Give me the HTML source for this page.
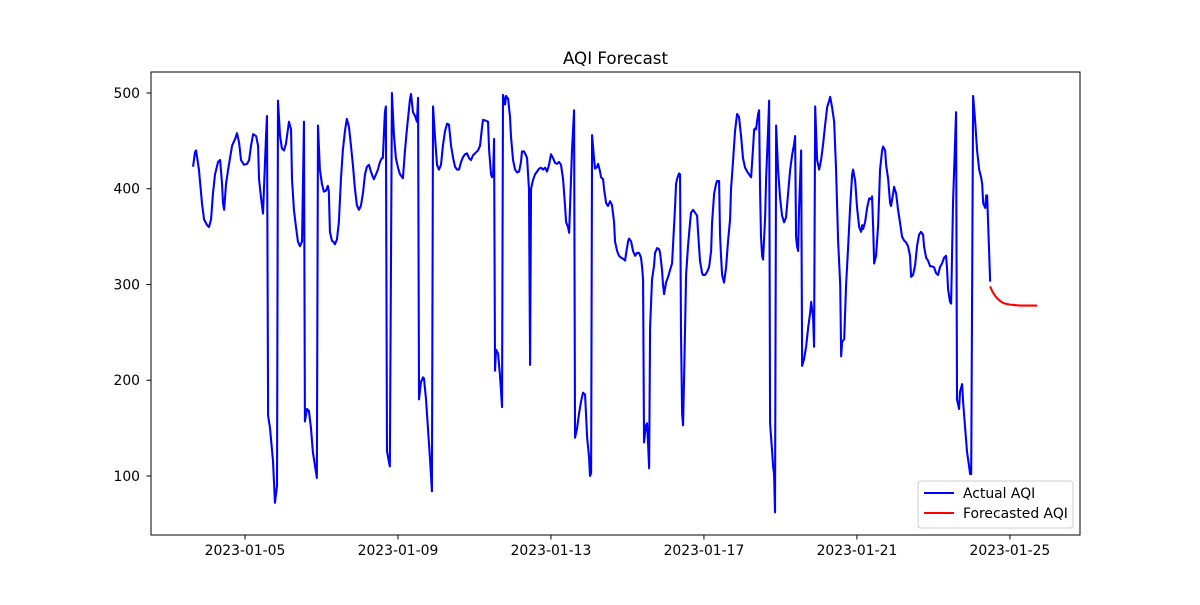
<!DOCTYPE html>
<html><head><meta charset="utf-8"><style>
body{margin:0;background:#fff;}
svg text{font-family:"DejaVu Sans","Liberation Sans",sans-serif;}
</style></head><body>
<svg id="chart" width="1200" height="600" xmlns="http://www.w3.org/2000/svg">
<rect width="1200" height="600" fill="#fff"/>
<text x="615.5" y="64" font-size="16.7" text-anchor="middle">AQI Forecast</text>
<g id="axes"></g>
<g id="series"></g>
<rect x="151" y="72" width="929" height="463" fill="none" stroke="#000" stroke-width="1"/>
<g>
<rect x="918" y="481" width="155" height="47" rx="3" fill="#fff" fill-opacity="0.8" stroke="#ccc"/>
<line x1="924" y1="493" x2="954" y2="493" stroke="#0000ff" stroke-width="2.08"/>
<text x="963" y="498" font-size="13.9">Actual AQI</text>
<line x1="924" y1="513" x2="954" y2="513" stroke="#ff0000" stroke-width="2.08"/>
<text x="963" y="518" font-size="13.9">Forecasted AQI</text>
</g>
</svg>
<script>
// hours since 2023-01-03 00:00
const actualTimes=[15.4,16.6,17.3,19.1,21.0,22.3,24.2,25.4,26.7,27.9,29.2,31.1,32.4,33.6,34.2,34.9,36.1,37.4,38.6,39.9,41.8,43.0,44.3,45.5,47.4,49.3,50.6,51.8,53.1,55.0,56.2,56.8,58.1,59.3,61.2,61.8,62.5,63.7,65.6,66.8,68.1,68.7,70.0,71.2,72.5,73.7,75.6,76.9,77.5,78.7,80.0,81.2,82.5,83.8,85.0,85.6,86.9,88.1,89.4,90.6,93.1,93.8,95.0,96.3,97.5,98.8,100.0,100.6,101.3,102.5,103.8,104.4,105.7,106.9,108.2,109.4,110.7,111.9,113.2,114.5,115.7,117.0,118.2,119.5,120.7,122.0,123.3,124.5,125.8,127.0,128.3,128.9,130.2,131.4,132.7,133.9,134.5,135.8,136.4,137.1,138.3,138.9,140.2,141.5,142.7,144.0,145.3,147.1,148.4,149.6,150.9,151.5,152.2,153.4,154.7,155.9,156.6,157.2,158.4,159.7,160.3,161.6,162.8,164.1,165.3,166.0,167.2,168.5,169.7,171.0,172.2,173.5,174.8,176.0,177.3,178.6,179.8,181.1,182.3,183.6,184.8,186.1,187.3,188.6,189.8,191.1,192.4,194.2,195.5,196.8,197.4,199.3,200.5,201.2,202.4,203.0,203.7,204.3,204.9,205.5,206.8,208.0,209.3,209.9,211.2,211.8,213.1,214.3,214.9,216.2,217.5,218.7,220.0,221.2,221.8,223.1,224.3,225.0,226.2,226.9,227.5,228.7,230.0,231.3,232.5,233.8,235.0,236.3,237.5,238.8,240.0,241.3,242.6,243.8,245.1,246.3,247.6,248.8,249.5,250.7,251.4,253.2,254.5,255.1,256.4,257.6,258.9,260.1,261.4,262.7,263.9,264.5,265.2,265.8,267.1,267.7,269.0,269.6,270.8,271.4,272.7,273.3,274.6,275.8,277.1,278.3,279.6,280.2,281.5,282.7,284.0,285.2,286.5,287.1,288.4,289.0,290.3,291.5,292.8,294.0,295.3,296.5,297.2,297.8,298.4,299.0,299.7,300.3,300.9,301.6,302.2,303.4,304.7,305.3,306.6,307.8,308.4,309.7,310.3,311.0,312.2,313.5,314.7,316.0,317.2,317.9,318.5,319.1,319.7,320.4,321.0,321.6,322.3,322.9,323.5,324.8,326.0,327.3,327.9,329.2,330.4,331.7,332.3,333.5,334.8,335.4,336.7,337.9,339.2,340.5,341.1,342.4,343.6,344.2,345.5,346.1,346.7,347.4,348.6,349.9,351.1,352.4,353.0,354.3,355.5,356.2,356.8,358.0,359.3,360.5,361.8,363.1,364.3,365.6,366.8,367.5,368.1,368.7,369.3,370.0,370.6,371.2,371.8,372.5,373.1,374.4,375.0,376.2,376.9,377.5,378.8,379.4,380.0,380.6,381.3,382.5,383.8,385.0,386.3,387.5,388.8,390.1,391.3,392.6,393.2,393.8,394.4,395.1,395.7,397.0,397.6,398.8,400.1,401.4,402.6,403.3,404.5,405.1,405.8,407.0,408.3,409.5,410.8,412.0,413.3,414.6,415.2,416.4,417.7,418.9,420.2,421.5,422.1,422.7,424.0,425.2,426.5,427.7,429.0,429.6,430.9,432.1,433.4,434.6,435.3,435.9,437.1,438.4,439.7,440.9,441.5,442.2,442.8,444.0,445.3,446.5,447.8,448.4,449.7,450.3,451.6,452.8,453.4,454.7,455.3,456.6,457.8,459.0,460.3,461.6,462.8,464.1,465.3,466.0,467.2,468.5,469.7,471.0,472.2,473.5,474.1,475.4,476.6,477.9,479.1,480.4,481.6,482.9,484.1,485.4,486.7,487.9,488.5,489.2,490.4,491.1,492.3,494.2,494.8,496.1,496.7,498.0,498.6,499.9,501.1,502.4,503.0,503.7,504.3,504.9,506.2,507.4,508.7,509.9,510.6,511.2,512.5,513.1,513.7,514.4,515.6];
const actualValues=[423,438,440,420,385,368,362,360,368,395,415,428,430,405,385,378,405,420,432,445,452,458,448,430,425,426,430,445,457,455,445,410,390,374,455,476,163,150,115,72,90,492,455,442,440,447,470,462,410,378,360,345,340,345,470,157,170,168,150,125,98,466,420,405,397,398,403,397,355,346,344,342,347,365,410,440,460,473,465,445,425,400,383,378,382,395,415,423,425,418,412,410,415,420,428,432,432,480,486,126,115,110,500,455,432,422,415,411,440,462,483,493,499,480,476,470,495,180,198,203,202,180,150,118,84,486,455,425,420,425,445,460,468,467,445,432,423,420,420,428,433,436,437,432,430,435,437,440,445,465,472,471,470,440,415,412,414,452,210,232,228,205,172,498,488,497,494,475,455,430,420,417,418,428,439,439,435,432,400,216,400,409,415,418,421,422,420,422,418,425,436,432,427,426,428,425,410,383,365,360,354,440,482,140,150,165,178,187,185,140,120,100,103,456,430,421,423,426,418,412,410,400,385,382,387,383,365,345,335,330,328,327,325,332,345,348,345,335,330,333,333,328,318,305,135,145,153,155,135,108,255,305,320,333,338,337,334,315,300,290,302,308,315,322,360,382,405,410,413,416,415,250,165,153,200,310,340,365,375,378,375,372,355,325,312,310,310,313,318,335,365,395,405,408,408,352,330,310,302,318,345,368,400,430,460,470,478,475,455,432,422,418,415,412,442,462,463,462,470,478,482,400,350,330,326,370,410,460,492,155,125,110,102,62,466,420,390,372,365,370,395,420,435,447,455,350,340,335,380,440,215,222,235,255,270,282,265,235,486,430,420,430,447,466,485,492,496,485,470,420,345,300,225,240,243,300,340,380,415,420,408,380,360,355,362,358,365,380,390,389,392,358,322,330,362,420,440,444,440,425,410,385,382,395,402,395,378,365,350,346,344,340,330,308,310,320,340,352,355,352,340,328,325,319,319,318,312,310,318,322,328,330,318,295,282,280,385,480,180,170,188,196,178,150,125,110,102,102,300,497,470,440,420,412,405,385,380,393,393,360,303];
const forecastTimes=[515.6,517.2,518.8,520.3,521.8,523.4,524.9,526.5,528.1,531.2,534.3,538.0,541.5,545.0];
const forecastValues=[298,292,288,285,283,281,280,279.5,279,278.5,278,278,278,278];
const yTicks=[100,200,300,400,500];
const xTickHours=[48,144,240,336,432,528];
const xTickLabels=["2023-01-05","2023-01-09","2023-01-13","2023-01-17","2023-01-21","2023-01-25"];

const NS="http://www.w3.org/2000/svg";
const xS=h=>168.5+h*1.5936;
const yS=v=>93+(500-v)*0.9575;
function mk(tag,attrs,parent){const e=document.createElementNS(NS,tag);for(const k in attrs)e.setAttribute(k,attrs[k]);parent.appendChild(e);return e;}
const axes=document.getElementById('axes');
yTicks.forEach(v=>{
  const y=yS(v);
  const t=mk('line',{x1:146.5,y1:y,x2:151,y2:y,stroke:'#000'},axes);
  
  
  const l=mk('text',{x:140,y:y+4.8,'font-size':13.9,'text-anchor':'end'},axes);
  
  
  l.textContent=v;
});
xTickHours.forEach((h,i)=>{
  const x=xS(h);
  const t=mk('line',{x1:x,y1:535,x2:x,y2:539.5,stroke:'#000'},axes);
  
  
  const l=mk('text',{x:x,y:555,'font-size':13.9,'text-anchor':'middle'},axes);
  
  
  l.textContent=xTickLabels[i];
});
const ser=document.getElementById('series');
function line(ts,vs,color,name){
  const d=ts.map((t,i)=>(i?'L':'M')+xS(t).toFixed(2)+' '+yS(vs[i]).toFixed(2)).join(' ');
  const p=mk('path',{d:d,fill:'none',stroke:color,'stroke-width':2.08,'stroke-linejoin':'round'},ser);
  
  
}
line(actualTimes,actualValues,'#0000ff','actual-aqi-line');
line(forecastTimes,forecastValues,'#ff0000','forecast-aqi-line');
</script>
</body></html>
